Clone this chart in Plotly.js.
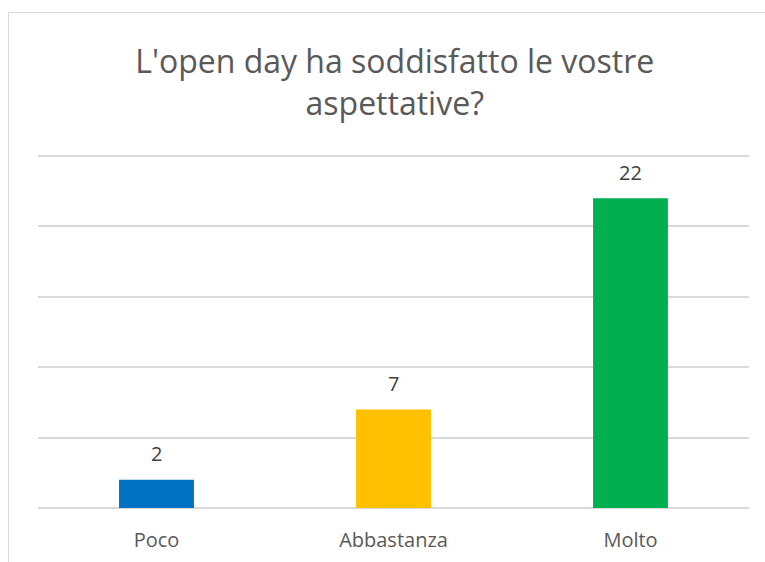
<!DOCTYPE html>
<html><head><meta charset="utf-8">
<script src="https://cdn.plot.ly/plotly-3.0.1.min.js"></script>
<style>
html,body{margin:0;padding:0;background:#fff;}
#frame{position:absolute;left:8px;top:12px;width:800px;height:600px;border:1px solid #d9d9d9;box-sizing:border-box;}
#chart{position:absolute;left:0;top:0;width:765px;height:562px;}
</style></head>
<body>
<div id="frame"></div>
<div id="chart"></div>
<script>
const categories = ["Poco", "Abbastanza", "Molto"];
const values = [2, 7, 22];
const barColors = ["#0070C0", "#FFC000", "#00B050"];
const titleText = "L'open day ha soddisfatto le vostre<br>aspettative?";

const trace = {
  type: "bar",
  x: categories,
  y: values,
  marker: {color: barColors},
  hoverinfo: "x+y"
};

const labels = categories.map((c, i) => ({
  x: c, y: values[i], xref: "x", yref: "y",
  text: String(values[i]), showarrow: false,
  yshift: 26,
  font: {family: "Open Sans, Liberation Sans, sans-serif", size: 20, color: "#404040"}
}));

const layout = {
  width: 765, height: 562,
  margin: {l: 38, r: 16, t: 149, b: 54},
  paper_bgcolor: "rgba(0,0,0,0)",
  plot_bgcolor: "rgba(0,0,0,0)",
  title: {
    text: titleText,
    x: 0.516, xanchor: "center",
    y: 0.87, yanchor: "top",
    font: {family: "Open Sans, sans-serif", size: 32, color: "#595959"}
  },
  bargap: 0.684,
  showlegend: false,
  xaxis: {
    showgrid: false, zeroline: false, showline: false,
    ticks: "", ticklabelstandoff: 18,
    tickfont: {family: "Open Sans, Liberation Sans, sans-serif", size: 20, color: "#595959"}
  },
  yaxis: {
    range: [0, 25.5], tick0: 0, dtick: 5, showticklabels: false,
    showgrid: true, gridcolor: "#d9d9d9", gridwidth: 2,
    zeroline: true, zerolinecolor: "#d9d9d9", zerolinewidth: 2,
    showline: false, ticks: "", fixedrange: true
  },
  annotations: labels
};

Plotly.newPlot("chart", [trace], layout, {displayModeBar: false, staticPlot: true});
</script>
</body></html>
